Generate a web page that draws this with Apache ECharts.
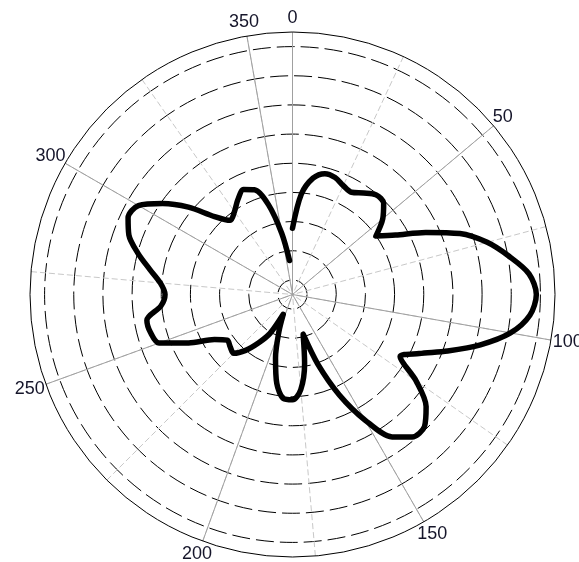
<!DOCTYPE html>
<html>
<head>
<meta charset="utf-8">
<script src="https://cdn.jsdelivr.net/npm/echarts@6/dist/echarts.min.js"></script>
<style>
  html, body { margin: 0; padding: 0; background: #ffffff; }
  #chart { width: 579px; height: 562px; }
</style>
</head>
<body>
<div id="chart"></div>
<script>
// Bearing of each sample, degrees clockwise from north
const bearings = [
  0, 5, 10, 15, 20, 25, 30, 35, 40, 45, 50, 55,
  60, 65, 70, 75, 80, 85, 90, 95, 100, 105, 110, 115,
  120, 125, 130, 135, 140, 145, 150, 155, 160, 165, 170, 175,
  180, 185, 190, 195, 200, 205, 210, 215, 220, 225, 230, 235,
  240, 245, 250, 255, 260, 265, 270, 275, 280, 285, 290, 295,
  300, 305, 310, 315, 320, 325, 330, 335, 340, 345, 350, 355
];

// Pattern magnitude at each bearing, in ring units (outer frame = 9)
const magnitude = [
  2.27, 3.45, 4.05, 4.29, 4.27, 4.12, 4.05, 4.25, 4.46, 4.42, 4.04, 3.49,
  4.08, 5.04, 6.11, 6.91, 7.54, 8.14, 8.36, 8.17, 7.59, 6.67, 5.66, 4.79,
  4.26, 5.18, 5.98, 6.40, 6.38, 5.96, 4.97, 3.80, 2.55, 1.41, 2.39, 3.27,
  3.61, 3.58, 3.10, 2.25, 1.37, 0.75, 1.54, 2.02, 2.50, 2.85, 2.79, 2.73,
  3.09, 3.93, 4.87, 5.04, 5.07, 4.53, 4.37, 4.55, 4.97, 5.49, 5.97, 6.22,
  6.10, 5.44, 4.66, 3.78, 3.32, 3.47, 3.75, 3.97, 3.82, 3.19, 2.13, 1.17
];

// Bearing labels round the frame
const angleTicks = [0, 50, 100, 150, 200, 250, 300, 350];

// Angular grid: labelled spokes and the dotted spokes between them
const labelStep = 50;
const minorStep = 25;
// Radial scale: frame radius and number of dashed rings inside it
const frameUnits = 9;
const ringCount = 8;

const CX = 292.5, CY = 294.5, R = 262.5;
const unitPx = R / frameUnits;
const LABEL_FONT = 18;

const chart = echarts.init(document.getElementById('chart'), null, { renderer: 'canvas' });

// Push each bearing label outward from the frame so its box clears the circle
function labelOffset(deg) {
  const t = deg * Math.PI / 180;
  const halfW = String(deg).length * LABEL_FONT * 0.278 + 2;
  const halfH = 14;
  return [halfW * Math.sin(t), -halfH * Math.cos(t)];
}

const hiddenAngle = (idx) => ({
  polarIndex: idx, type: 'value', min: 0, max: 360,
  startAngle: 90, clockwise: true, show: false
});

chart.setOption({
  animation: false,
  backgroundColor: '#ffffff',
  polar: [
    { center: [CX, CY], radius: R },
    { center: [CX, CY], radius: [unitPx * 0.5, unitPx * (ringCount + 0.5)] },
    { center: [CX, CY], radius: R }
  ],
  angleAxis: [
    {
      polarIndex: 0, type: 'value', min: 0, max: 360, interval: minorStep,
      startAngle: 90, clockwise: true,
      axisLine: { show: false }, axisTick: { show: false }, axisLabel: { show: false },
      splitLine: { show: true, lineStyle: { color: '#c8c8c8', width: 1, type: [6, 3] } }
    },
    hiddenAngle(1),
    {
      polarIndex: 2, type: 'value', min: 0, max: 360, interval: labelStep,
      startAngle: 90, clockwise: true,
      axisLine: { show: true, lineStyle: { color: '#000000', width: 1 } },
      axisTick: { show: false },
      axisLabel: { show: false },
      splitLine: { show: true, lineStyle: { color: '#a0a0a0', width: 1 } }
    }
  ],
  radiusAxis: [
    { polarIndex: 0, type: 'value', min: 0, max: frameUnits, show: false },
    {
      polarIndex: 1, type: 'value', min: 0, max: ringCount, interval: 1,
      axisLine: { show: false }, axisTick: { show: false }, axisLabel: { show: false },
      splitLine: { show: true, lineStyle: { color: '#000000', width: 1, type: [18, 6] } }
    },
    { polarIndex: 2, type: 'value', min: 0, max: frameUnits, show: false }
  ],
  series: [
    {
      type: 'line',
      coordinateSystem: 'polar',
      polarIndex: 2,
      data: bearings.map((b, i) => [magnitude[i], b]),
      symbol: 'none',
      showSymbol: false,
      smooth: 0.3,
      lineStyle: { color: '#000000', width: 5.5, cap: 'round', join: 'round' },
      z: 10
    },
    {
      type: 'scatter',
      coordinateSystem: 'polar',
      polarIndex: 2,
      symbolSize: 0,
      silent: true,
      itemStyle: { opacity: 1 },
      data: angleTicks.map((a) => ({
        value: [frameUnits, a],
        label: { offset: labelOffset(a) }
      })),
      label: {
        show: true,
        position: 'inside',
        formatter: (p) => String(p.value[1]),
        color: '#15152a',
        opacity: 1,
        textBorderWidth: 0,
        textBorderColor: 'transparent',
        fontSize: LABEL_FONT,
        fontFamily: 'Liberation Sans, Arial, sans-serif'
      },
      z: 11
    }
  ]
});
</script>
</body>
</html>
